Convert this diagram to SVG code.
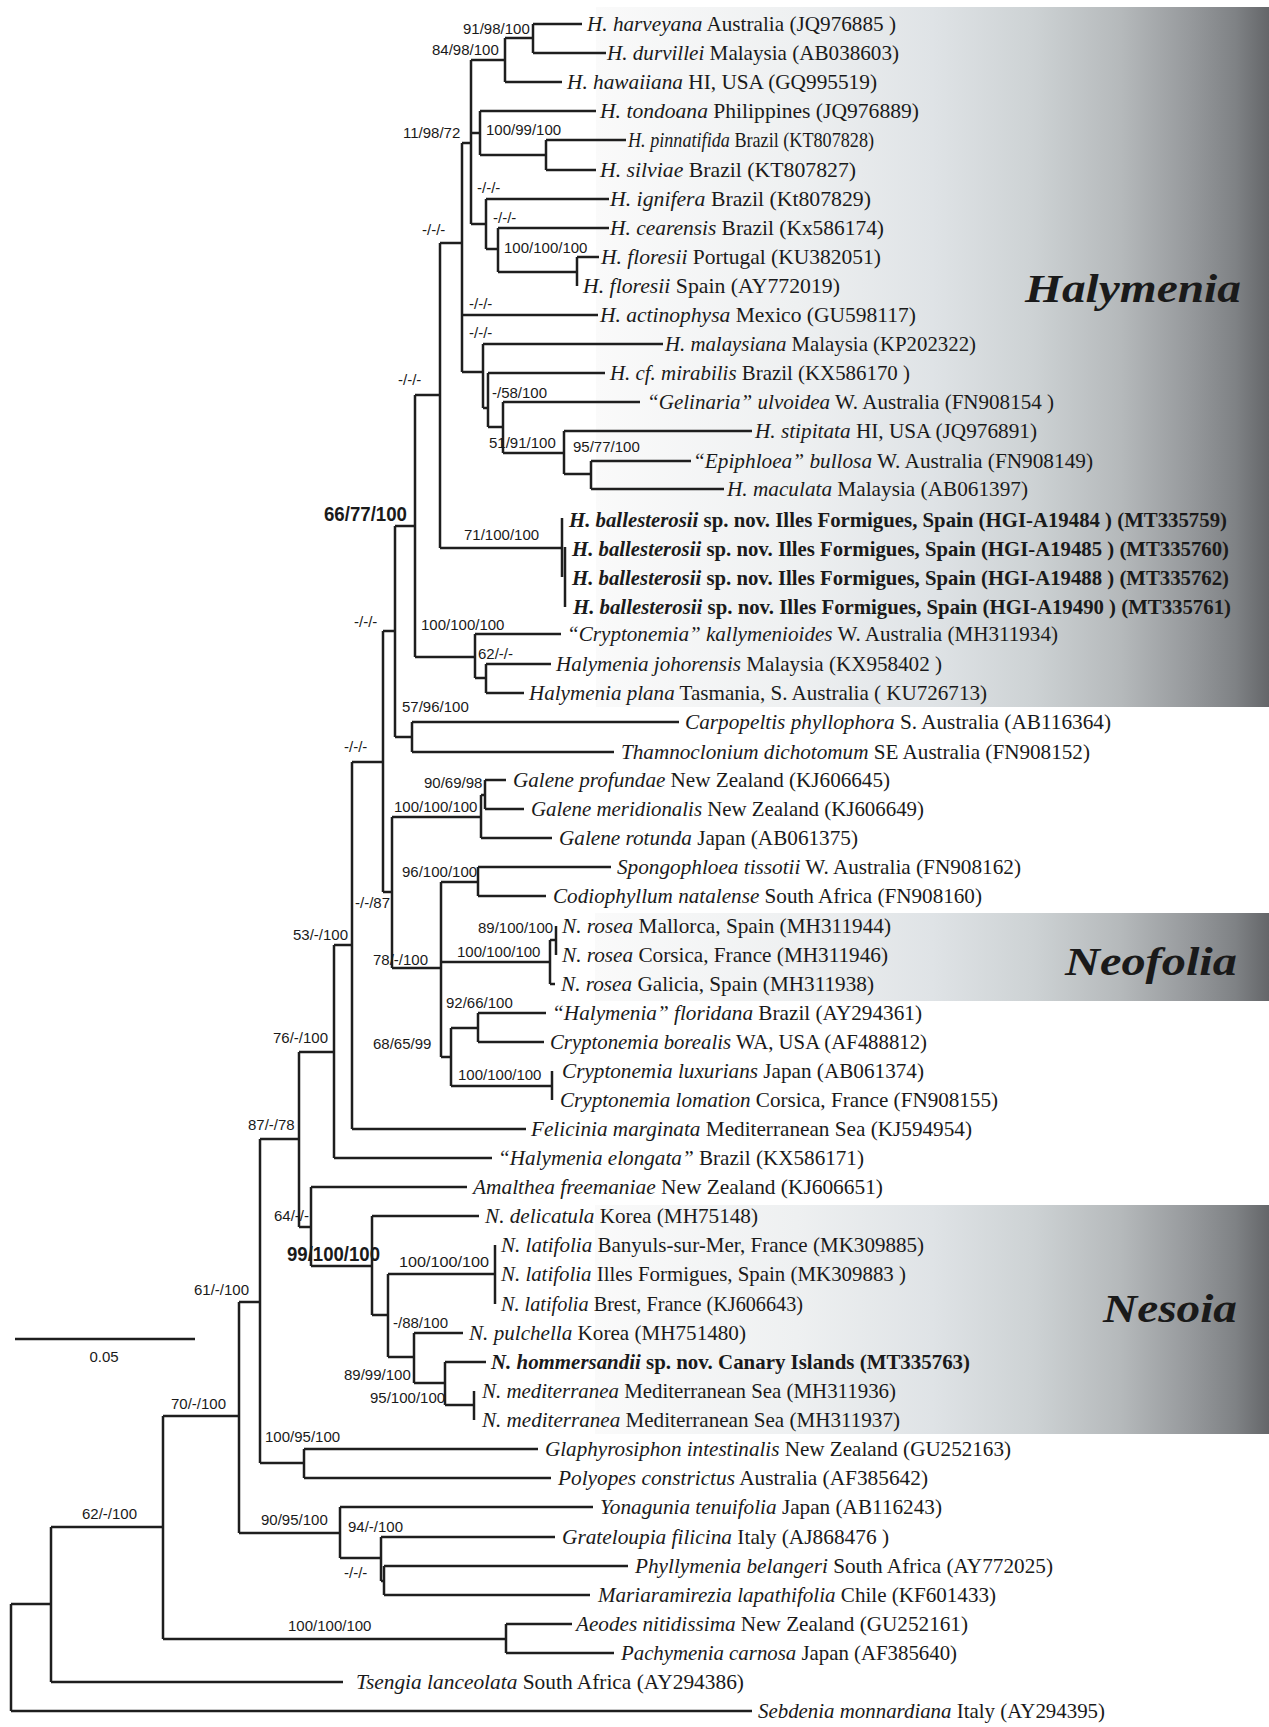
<svg xmlns="http://www.w3.org/2000/svg" width="1269" height="1727" viewBox="0 0 1269 1727">
<style>
.br{fill:none;stroke:#1e1e1e;stroke-width:2.5}
.tip{font-family:"Liberation Serif","Times New Roman",serif;font-size:22px;fill:#1a1a1a}
.i{font-style:italic}
.b{font-weight:bold}
.sv{font-family:"Liberation Sans",Arial,sans-serif;font-size:15px;fill:#1a1a1a}
.svb{font-size:21px;font-weight:bold}
.clade{font-family:"Liberation Serif","Times New Roman",serif;font-style:italic;font-weight:bold;font-size:40px;fill:#1a1a1a}
</style>
<defs>
<linearGradient id="grey" x1="0" y1="0" x2="1" y2="0">
<stop offset="0" stop-color="#fafafa"/>
<stop offset="0.3" stop-color="#eef0f1"/>
<stop offset="0.5" stop-color="#dfe3e6"/>
<stop offset="0.65" stop-color="#cdd2d4"/>
<stop offset="0.78" stop-color="#b5b9bb"/>
<stop offset="0.88" stop-color="#979a9d"/>
<stop offset="0.95" stop-color="#7f8285"/>
<stop offset="1" stop-color="#646669"/>
</linearGradient>
</defs>
<rect width="1269" height="1727" fill="#fff"/>
<g id="clade-boxes">
<rect x="596" y="7" width="673" height="700" fill="url(#grey)"/>
<rect x="595" y="913" width="674" height="88" fill="url(#grey)"/>
<rect x="595" y="1205" width="674" height="229" fill="url(#grey)"/>
</g>
<g id="clade-labels">
<text class="clade" x="1025" y="302" textLength="216" lengthAdjust="spacingAndGlyphs">Halymenia</text>
<text class="clade" x="1065" y="975" textLength="172" lengthAdjust="spacingAndGlyphs">Neofolia</text>
<text class="clade" x="1103" y="1322" textLength="134" lengthAdjust="spacingAndGlyphs">Nesoia</text>
</g>
<g id="connectors" class="br">
<path d="M533 24V53M533 24H582M533 53H606"/>
<path d="M505 38V82M505 38H533M505 82H562"/>
<path d="M471 60V224M471 60H505M471 133H480M471 224H486"/>
<path d="M480 111V155M480 111H596M480 155H546"/>
<path d="M546 140V170M546 140H626M546 170H596"/>
<path d="M486 199V249M486 199H609M486 249H498"/>
<path d="M498 228V272M498 228H609M498 272H577"/>
<path d="M577 257V286M577 257H599"/>
<path d="M462 143V372M462 143H471M462 315H598M462 372H483"/>
<path d="M483 344V408M483 344H663M483 408H488"/>
<path d="M488 373V427M488 373H605M488 427H503"/>
<path d="M503 402V453M503 402H640M503 453H564"/>
<path d="M564 431V474M564 431H752M564 474H591"/>
<path d="M591 461V489M591 461H691M591 489H724"/>
<path d="M440 243V548M440 243H462M440 548H562"/>
<path d="M562 518V577M565 547V607"/>
<path d="M415 395V657M415 395H440M415 657H475"/>
<path d="M475 634V678M475 634H561M475 678H486"/>
<path d="M486 664V693M486 664H551M486 693H524"/>
<path d="M395 526V737M395 526H415M395 737H412"/>
<path d="M412 722V752M412 722H679M412 752H614"/>
<path d="M383 631V892M383 631H395M383 892H392"/>
<path d="M392 817V968M392 817H481M392 968H441"/>
<path d="M481 795V838M481 795H485M481 838H552"/>
<path d="M485 780V809M485 780H506M485 809H524"/>
<path d="M441 882V1057M441 882H478M441 962H550M441 1057H451"/>
<path d="M478 867V896M478 867H611M478 896H546"/>
<path d="M550 940V984M550 940H556M550 984H555"/>
<path d="M556 926V955"/>
<path d="M451 1028V1086M451 1028H478M451 1086H552"/>
<path d="M478 1013V1042M478 1013H546M478 1042H544"/>
<path d="M552 1071V1100"/>
<path d="M352 762V1129M352 762H383M352 1129H526"/>
<path d="M334 945V1158M334 945H352M334 1158H492"/>
<path d="M299 1052V1227M299 1052H334M299 1227H311"/>
<path d="M311 1187V1266M311 1187H467M311 1266H372"/>
<path d="M372 1216V1315M372 1216H479M372 1315H388"/>
<path d="M388 1274V1357M388 1274H495M388 1357H414"/>
<path d="M495 1245V1304"/>
<path d="M414 1333V1383M414 1333H463M414 1383H445"/>
<path d="M445 1362V1405M445 1362H486M445 1405H474"/>
<path d="M474 1391V1420"/>
<path d="M260 1139V1463M260 1139H299M260 1463H304"/>
<path d="M304 1449V1478M304 1449H538M304 1478H551"/>
<path d="M239 1302V1533M239 1302H260M239 1533H340"/>
<path d="M340 1507V1558M340 1507H593M340 1558H381"/>
<path d="M381 1537V1581M381 1537H555M381 1581H384"/>
<path d="M384 1566V1595M384 1566H628M384 1595H590"/>
<path d="M163 1416V1639M163 1416H239M163 1639H506"/>
<path d="M506 1624V1653M506 1624H572M506 1653H614"/>
<path d="M51 1527V1682M51 1527H163M51 1682H343"/>
<path d="M11 1604V1711M11 1604H51M11 1711H752"/>
</g>
<g id="scale-bar">
<path class="br" d="M15 1339H195"/>
<text class="sv" x="104" y="1362" text-anchor="middle">0.05</text>
</g>
<g id="support-values" class="sv">
<g id="n1"><text x="463" y="34">91/98/100</text></g>
<g id="n2"><text x="432" y="55">84/98/100</text></g>
<g id="n3"><text x="403" y="138">11/98/72</text></g>
<g id="n4"><text x="486" y="135">100/99/100</text></g>
<g id="n5"><text x="477" y="193">-/-/-</text></g>
<g id="n6"><text x="493" y="223">-/-/-</text></g>
<g id="n7"><text x="504" y="253">100/100/100</text></g>
<g id="n8"><text x="422" y="235">-/-/-</text></g>
<g id="n9"><text x="469" y="309">-/-/-</text></g>
<g id="n10"><text x="469" y="338">-/-/-</text></g>
<g id="n11"><text x="492" y="398">-/58/100</text></g>
<g id="n12"><text x="489" y="448">51/91/100</text></g>
<g id="n13"><text x="573" y="452">95/77/100</text></g>
<g id="n14"><text x="398" y="385">-/-/-</text></g>
<g id="n15"><text x="464" y="540">71/100/100</text></g>
<g id="n16"><text class="svb" x="324" y="521" textLength="83" lengthAdjust="spacingAndGlyphs">66/77/100</text></g>
<g id="n17"><text x="421" y="630">100/100/100</text></g>
<g id="n18"><text x="478" y="659">62/-/-</text></g>
<g id="n19"><text x="354" y="627">-/-/-</text></g>
<g id="n20"><text x="402" y="712">57/96/100</text></g>
<g id="n21"><text x="344" y="752">-/-/-</text></g>
<g id="n22"><text x="424" y="788">90/69/98</text></g>
<g id="n23"><text x="394" y="812">100/100/100</text></g>
<g id="n24"><text x="355" y="908">-/-/87</text></g>
<g id="n25"><text x="402" y="877">96/100/100</text></g>
<g id="n26"><text x="293" y="940">53/-/100</text></g>
<g id="n27"><text x="373" y="965">78/-/100</text></g>
<g id="n28"><text x="457" y="957">100/100/100</text></g>
<g id="n29"><text x="478" y="933">89/100/100</text></g>
<g id="n30"><text x="446" y="1008">92/66/100</text></g>
<g id="n31"><text x="373" y="1049">68/65/99</text></g>
<g id="n32"><text x="458" y="1080">100/100/100</text></g>
<g id="n33"><text x="273" y="1043">76/-/100</text></g>
<g id="n34"><text x="248" y="1130">87/-/78</text></g>
<g id="n35"><text x="274" y="1221">64/-/-</text></g>
<g id="n36"><text class="svb" x="287" y="1261" textLength="93" lengthAdjust="spacingAndGlyphs">99/100/100</text></g>
<g id="n37"><text x="399" y="1267" textLength="90" lengthAdjust="spacingAndGlyphs">100/100/100</text></g>
<g id="n38"><text x="194" y="1295">61/-/100</text></g>
<g id="n39"><text x="393" y="1328">-/88/100</text></g>
<g id="n40"><text x="344" y="1380">89/99/100</text></g>
<g id="n41"><text x="370" y="1403">95/100/100</text></g>
<g id="n42"><text x="171" y="1409">70/-/100</text></g>
<g id="n43"><text x="265" y="1442">100/95/100</text></g>
<g id="n44"><text x="82" y="1519">62/-/100</text></g>
<g id="n45"><text x="261" y="1525">90/95/100</text></g>
<g id="n46"><text x="348" y="1532">94/-/100</text></g>
<g id="n47"><text x="344" y="1578">-/-/-</text></g>
<g id="n48"><text x="288" y="1631">100/100/100</text></g>
</g>
<g id="tips" class="tip">
<g id="t1"><text x="587" y="31" textLength="309" lengthAdjust="spacingAndGlyphs"><tspan class="i">H. harveyana</tspan> Australia (JQ976885 )</text></g>
<g id="t2"><text x="607" y="60" textLength="292" lengthAdjust="spacingAndGlyphs"><tspan class="i">H. durvillei</tspan> Malaysia (AB038603)</text></g>
<g id="t3"><text x="567" y="89" textLength="310" lengthAdjust="spacingAndGlyphs"><tspan class="i">H. hawaiiana</tspan> HI, USA (GQ995519)</text></g>
<g id="t4"><text x="600" y="118" textLength="319" lengthAdjust="spacingAndGlyphs"><tspan class="i">H. tondoana</tspan> Philippines (JQ976889)</text></g>
<g id="t5"><text x="628" y="147" textLength="246" lengthAdjust="spacingAndGlyphs"><tspan class="i">H. pinnatifida</tspan> Brazil (KT807828)</text></g>
<g id="t6"><text x="600" y="177" textLength="256" lengthAdjust="spacingAndGlyphs"><tspan class="i">H. silviae</tspan> Brazil (KT807827)</text></g>
<g id="t7"><text x="610" y="206" textLength="261" lengthAdjust="spacingAndGlyphs"><tspan class="i">H. ignifera</tspan> Brazil (Kt807829)</text></g>
<g id="t8"><text x="610" y="235" textLength="274" lengthAdjust="spacingAndGlyphs"><tspan class="i">H. cearensis</tspan> Brazil (Kx586174)</text></g>
<g id="t9"><text x="601" y="264" textLength="280" lengthAdjust="spacingAndGlyphs"><tspan class="i">H. floresii</tspan> Portugal (KU382051)</text></g>
<g id="t10"><text x="583" y="293" textLength="257" lengthAdjust="spacingAndGlyphs"><tspan class="i">H. floresii</tspan> Spain (AY772019)</text></g>
<g id="t11"><text x="600" y="322" textLength="316" lengthAdjust="spacingAndGlyphs"><tspan class="i">H. actinophysa</tspan> Mexico (GU598117)</text></g>
<g id="t12"><text x="665" y="351" textLength="311" lengthAdjust="spacingAndGlyphs"><tspan class="i">H. malaysiana</tspan> Malaysia (KP202322)</text></g>
<g id="t13"><text x="610" y="380" textLength="300" lengthAdjust="spacingAndGlyphs"><tspan class="i">H. cf. mirabilis</tspan> Brazil (KX586170 )</text></g>
<g id="t14"><text x="647" y="409" textLength="407" lengthAdjust="spacingAndGlyphs"><tspan class="i">“Gelinaria” ulvoidea</tspan> W. Australia (FN908154 )</text></g>
<g id="t15"><text x="755" y="438" textLength="282" lengthAdjust="spacingAndGlyphs"><tspan class="i">H. stipitata</tspan> HI, USA (JQ976891)</text></g>
<g id="t16"><text x="693" y="468" textLength="400" lengthAdjust="spacingAndGlyphs"><tspan class="i">“Epiphloea” bullosa</tspan> W. Australia (FN908149)</text></g>
<g id="t17"><text x="727" y="496" textLength="301" lengthAdjust="spacingAndGlyphs"><tspan class="i">H. maculata</tspan> Malaysia (AB061397)</text></g>
<g id="t18"><text class="b" x="569" y="527" textLength="658" lengthAdjust="spacingAndGlyphs"><tspan class="i">H. ballesterosii</tspan> sp. nov. Illes Formigues, Spain (HGI-A19484 ) (MT335759)</text></g>
<g id="t19"><text class="b" x="572" y="556" textLength="657" lengthAdjust="spacingAndGlyphs"><tspan class="i">H. ballesterosii</tspan> sp. nov. Illes Formigues, Spain (HGI-A19485 ) (MT335760)</text></g>
<g id="t20"><text class="b" x="572" y="585" textLength="657" lengthAdjust="spacingAndGlyphs"><tspan class="i">H. ballesterosii</tspan> sp. nov. Illes Formigues, Spain (HGI-A19488 ) (MT335762)</text></g>
<g id="t21"><text class="b" x="573" y="614" textLength="658" lengthAdjust="spacingAndGlyphs"><tspan class="i">H. ballesterosii</tspan> sp. nov. Illes Formigues, Spain (HGI-A19490 ) (MT335761)</text></g>
<g id="t22"><text x="567" y="641" textLength="491" lengthAdjust="spacingAndGlyphs"><tspan class="i">“Cryptonemia” kallymenioides</tspan> W. Australia (MH311934)</text></g>
<g id="t23"><text x="556" y="671" textLength="386" lengthAdjust="spacingAndGlyphs"><tspan class="i">Halymenia johorensis</tspan> Malaysia (KX958402 )</text></g>
<g id="t24"><text x="529" y="700" textLength="458" lengthAdjust="spacingAndGlyphs"><tspan class="i">Halymenia plana</tspan> Tasmania, S. Australia ( KU726713)</text></g>
<g id="t25"><text x="685" y="729" textLength="426" lengthAdjust="spacingAndGlyphs"><tspan class="i">Carpopeltis phyllophora</tspan> S. Australia (AB116364)</text></g>
<g id="t26"><text x="621" y="759" textLength="469" lengthAdjust="spacingAndGlyphs"><tspan class="i">Thamnoclonium dichotomum</tspan> SE Australia (FN908152)</text></g>
<g id="t27"><text x="513" y="787" textLength="377" lengthAdjust="spacingAndGlyphs"><tspan class="i">Galene profundae</tspan> New Zealand (KJ606645)</text></g>
<g id="t28"><text x="531" y="816" textLength="393" lengthAdjust="spacingAndGlyphs"><tspan class="i">Galene meridionalis</tspan> New Zealand (KJ606649)</text></g>
<g id="t29"><text x="559" y="845" textLength="299" lengthAdjust="spacingAndGlyphs"><tspan class="i">Galene rotunda</tspan> Japan (AB061375)</text></g>
<g id="t30"><text x="617" y="874" textLength="404" lengthAdjust="spacingAndGlyphs"><tspan class="i">Spongophloea tissotii</tspan> W. Australia (FN908162)</text></g>
<g id="t31"><text x="553" y="903" textLength="429" lengthAdjust="spacingAndGlyphs"><tspan class="i">Codiophyllum natalense</tspan> South Africa (FN908160)</text></g>
<g id="t32"><text x="562" y="933" textLength="329" lengthAdjust="spacingAndGlyphs"><tspan class="i">N. rosea</tspan> Mallorca, Spain (MH311944)</text></g>
<g id="t33"><text x="562" y="962" textLength="326" lengthAdjust="spacingAndGlyphs"><tspan class="i">N. rosea</tspan> Corsica, France (MH311946)</text></g>
<g id="t34"><text x="561" y="991" textLength="313" lengthAdjust="spacingAndGlyphs"><tspan class="i">N. rosea</tspan> Galicia, Spain (MH311938)</text></g>
<g id="t35"><text x="552" y="1020" textLength="370" lengthAdjust="spacingAndGlyphs"><tspan class="i">“Halymenia” floridana</tspan> Brazil (AY294361)</text></g>
<g id="t36"><text x="550" y="1049" textLength="377" lengthAdjust="spacingAndGlyphs"><tspan class="i">Cryptonemia borealis</tspan> WA, USA (AF488812)</text></g>
<g id="t37"><text x="562" y="1078" textLength="362" lengthAdjust="spacingAndGlyphs"><tspan class="i">Cryptonemia luxurians</tspan> Japan (AB061374)</text></g>
<g id="t38"><text x="560" y="1107" textLength="438" lengthAdjust="spacingAndGlyphs"><tspan class="i">Cryptonemia lomation</tspan> Corsica, France (FN908155)</text></g>
<g id="t39"><text x="531" y="1136" textLength="441" lengthAdjust="spacingAndGlyphs"><tspan class="i">Felicinia marginata</tspan> Mediterranean Sea (KJ594954)</text></g>
<g id="t40"><text x="498" y="1165" textLength="366" lengthAdjust="spacingAndGlyphs"><tspan class="i">“Halymenia elongata”</tspan> Brazil (KX586171)</text></g>
<g id="t41"><text x="473" y="1194" textLength="410" lengthAdjust="spacingAndGlyphs"><tspan class="i">Amalthea freemaniae</tspan> New Zealand (KJ606651)</text></g>
<g id="t42"><text x="485" y="1223" textLength="273" lengthAdjust="spacingAndGlyphs"><tspan class="i">N. delicatula</tspan> Korea (MH75148)</text></g>
<g id="t43"><text x="501" y="1252" textLength="423" lengthAdjust="spacingAndGlyphs"><tspan class="i">N. latifolia</tspan> Banyuls-sur-Mer, France (MK309885)</text></g>
<g id="t44"><text x="501" y="1281" textLength="405" lengthAdjust="spacingAndGlyphs"><tspan class="i">N. latifolia</tspan> Illes Formigues, Spain (MK309883 )</text></g>
<g id="t45"><text x="501" y="1311" textLength="302" lengthAdjust="spacingAndGlyphs"><tspan class="i">N. latifolia</tspan> Brest, France (KJ606643)</text></g>
<g id="t46"><text x="469" y="1340" textLength="277" lengthAdjust="spacingAndGlyphs"><tspan class="i">N. pulchella</tspan> Korea (MH751480)</text></g>
<g id="t47"><text class="b" x="491" y="1369" textLength="479" lengthAdjust="spacingAndGlyphs"><tspan class="i">N. hommersandii</tspan> sp. nov. Canary Islands (MT335763)</text></g>
<g id="t48"><text x="482" y="1398" textLength="414" lengthAdjust="spacingAndGlyphs"><tspan class="i">N. mediterranea</tspan> Mediterranean Sea (MH311936)</text></g>
<g id="t49"><text x="482" y="1427" textLength="418" lengthAdjust="spacingAndGlyphs"><tspan class="i">N. mediterranea</tspan> Mediterranean Sea (MH311937)</text></g>
<g id="t50"><text x="545" y="1456" textLength="466" lengthAdjust="spacingAndGlyphs"><tspan class="i">Glaphyrosiphon intestinalis</tspan> New Zealand (GU252163)</text></g>
<g id="t51"><text x="558" y="1485" textLength="370" lengthAdjust="spacingAndGlyphs"><tspan class="i">Polyopes constrictus</tspan> Australia (AF385642)</text></g>
<g id="t52"><text x="600" y="1514" textLength="342" lengthAdjust="spacingAndGlyphs"><tspan class="i">Yonagunia tenuifolia</tspan> Japan (AB116243)</text></g>
<g id="t53"><text x="562" y="1544" textLength="327" lengthAdjust="spacingAndGlyphs"><tspan class="i">Grateloupia filicina</tspan> Italy (AJ868476 )</text></g>
<g id="t54"><text x="635" y="1573" textLength="418" lengthAdjust="spacingAndGlyphs"><tspan class="i">Phyllymenia belangeri</tspan> South Africa (AY772025)</text></g>
<g id="t55"><text x="598" y="1602" textLength="398" lengthAdjust="spacingAndGlyphs"><tspan class="i">Mariaramirezia lapathifolia</tspan> Chile (KF601433)</text></g>
<g id="t56"><text x="576" y="1631" textLength="392" lengthAdjust="spacingAndGlyphs"><tspan class="i">Aeodes nitidissima</tspan> New Zealand (GU252161)</text></g>
<g id="t57"><text x="621" y="1660" textLength="336" lengthAdjust="spacingAndGlyphs"><tspan class="i">Pachymenia carnosa</tspan> Japan (AF385640)</text></g>
<g id="t58"><text x="356" y="1689" textLength="388" lengthAdjust="spacingAndGlyphs"><tspan class="i">Tsengia lanceolata</tspan> South Africa (AY294386)</text></g>
<g id="t59"><text x="758" y="1718" textLength="347" lengthAdjust="spacingAndGlyphs"><tspan class="i">Sebdenia monnardiana</tspan> Italy (AY294395)</text></g>
</g>
</svg>
